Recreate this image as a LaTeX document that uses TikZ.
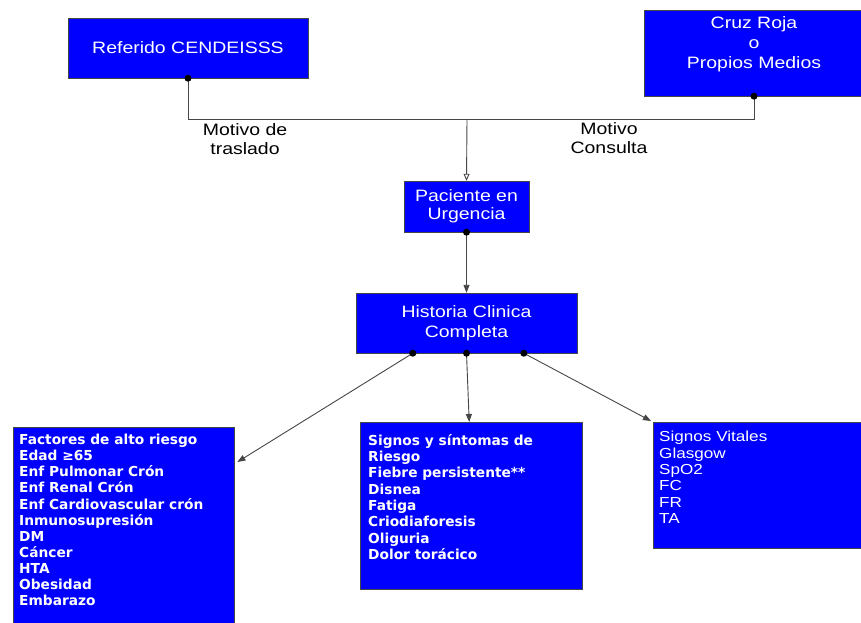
\documentclass[tikz,border=0pt]{standalone}
\usepackage{fontspec}
\setmainfont[FakeStretch=1.18]{Liberation Sans}
\newfontfamily\verdana{DejaVu Sans}
\usetikzlibrary{arrows.meta}
\definecolor{azulcaja}{RGB}{0,0,255}
\definecolor{linea}{RGB}{70,70,70}
\tikzset{
  caja/.style={draw=linea, fill=azulcaja, text=white, align=center, inner sep=0pt,
    font=\fontsize{16.5}{20}\selectfont},
  lista/.style={draw=linea, fill=azulcaja, text=white, anchor=north west, inner ysep=0pt},
  conector/.style={draw=linea, line width=0.9pt},
  punto/.style={fill=black},
}
% caja de lista: ancho, alto, margen superior, texto
\newcommand{\listado}[4]{\begin{minipage}[t][#2][t]{#1}\vspace*{#3}#4\end{minipage}}
\begin{document}
\begin{tikzpicture}[x=1pt,y=-1pt]
			\clip (0,0) rectangle (861,622);
			\fill[white] (0,0) rectangle (861,622);
			% cajas superiores
			\node[caja, minimum width=240, minimum height=60] (ref) at (188,48) {Referido CENDEISSS};
			\node[caja, minimum width=220, minimum height=86] (cruz) at (754,53) {Cruz Roja\\o\\Propios Medios\\[-6pt]\strut};
			\coordinate (junta) at (467,119);
			\node[caja, minimum width=125, minimum height=51, font=\fontsize{16.5}{18}\selectfont] (pac) at (466.5,206.5) {Paciente en\\Urgencia};
			\node[caja, minimum width=221, minimum height=60] (hc) at (466.5,323) {Historia Clinica\\Completa};
			% etiquetas
			\node[align=center, font=\fontsize{16.5}{19}\selectfont] (tras) at (245,139) {Motivo de\\traslado};
			\node[align=center, font=\fontsize{16.5}{19}\selectfont] (cons) at (609,138) {Motivo\\Consulta};
			% cajas inferiores
			\node[lista, inner xsep=6pt] (fact) at (13,427)
				{\listado{209pt}{215pt}{7pt}{\verdana\bfseries\fontsize{13.75}{16.1}\selectfont
				Factores de alto riesgo\\Edad ≥65\\Enf Pulmonar Crón\\Enf Renal Crón\\Enf Cardiovascular crón\\Inmunosupresión\\DM\\Cáncer\\HTA\\Obesidad\\Embarazo}};
			\node[lista, inner xsep=8pt] (sig) at (360,422)
				{\listado{206pt}{167pt}{12pt}{\verdana\bfseries\fontsize{13.75}{16.3}\selectfont
				Signos y síntomas de\\Riesgo\\Fiebre persistente**\\Disnea\\Fatiga\\Criodiaforesis\\Oliguria\\Dolor torácico}};
			\node[lista, inner xsep=6pt] (vit) at (653,422)
				{\listado{204pt}{126pt}{9pt}{\fontsize{14.5}{16.4}\selectfont
				Signos Vitales\\Glasgow\\SpO2\\FC\\FR\\TA}};
			% conectores
			\draw[conector] (ref.south) |- (junta);
			\draw[conector] (cruz.south) |- (junta);
			\draw[conector, -{Triangle[open, length=7pt, width=6pt]}] (junta) -- (pac.north);
			\draw[conector, -{Triangle[length=8pt, width=6pt]}] (pac.south) -- (hc.north);
			\draw[conector, -{Triangle[length=8pt, width=6pt]}] ([xshift=57pt]hc.south west) -- ([xshift=3pt,yshift=-35pt]fact.north east);
			\draw[conector, -{Triangle[length=8pt, width=6pt]}] (hc.south) -- ([xshift=-2pt]sig.north);
			\draw[conector, -{Triangle[length=8pt, width=6pt]}] ([xshift=168pt]hc.south west) -- ([xshift=-2pt,yshift=1pt]vit.north west);
			% puntos
			\fill[punto] (ref.south) circle (3.5pt);
			\fill[punto] (cruz.south) circle (3.5pt);
			\fill[punto] (pac.south) circle (3.5pt);
			\fill[punto] ([xshift=57pt]hc.south west) circle (3.5pt);
			\fill[punto] (hc.south) circle (3.5pt);
			\fill[punto] ([xshift=168pt]hc.south west) circle (3.5pt);
\end{tikzpicture}
\end{document}
